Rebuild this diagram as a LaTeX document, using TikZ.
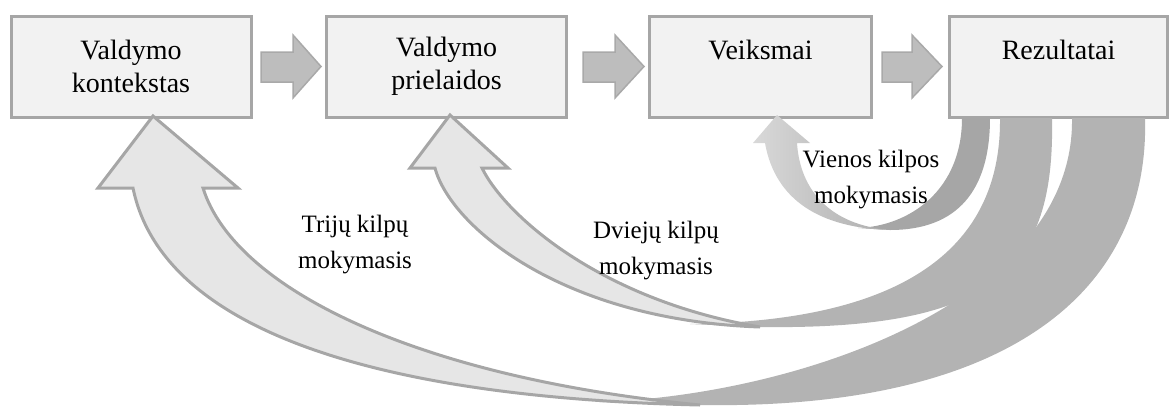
\documentclass[tikz,border=0pt]{standalone}
\usepackage{fontspec}
\setmainfont{Liberation Serif}
\definecolor{boxline}{HTML}{A6A6A6}
\definecolor{boxfill}{HTML}{F2F2F2}
\definecolor{blkfill}{HTML}{BDBDBD}
\definecolor{blkline}{HTML}{A9A9A9}
\definecolor{backfill}{HTML}{B3B3B3}
\definecolor{backfillA}{HTML}{A6A6A6}
\definecolor{frontfill}{HTML}{E6E6E6}
\definecolor{frontline}{HTML}{A6A6A6}
\tikzset{
  procbox/.style={draw=boxline, fill=boxfill, line width=3pt, inner sep=0pt},
  boxtext/.style={font=\fontsize{28}{33}\selectfont, align=center, inner sep=0pt},
  looptext/.style={font=\fontsize{25}{36}\selectfont, align=center, inner sep=0pt},
  blockarrow/.style={fill=blkfill, draw=blkline, line width=1.5pt, line join=miter},
  backpart/.style={fill=backfill, draw=none},
  frontpart/.style={fill=frontfill, draw=frontline, line width=3pt, line join=miter},
}
\begin{document}
\begin{tikzpicture}[x=1pt,y=-1pt]
\useasboundingbox (0,0) rectangle (1171,408);
% boxes
\node[procbox, minimum width=240pt, minimum height=101pt] (b1) at (131,66.5) {};
\node[procbox, minimum width=240pt, minimum height=101pt] (b2) at (446.5,66.5) {};
\node[procbox, minimum width=222pt, minimum height=101pt] (b3) at (760.5,66.5) {};
\node[procbox, minimum width=218pt, minimum height=101pt] (b4) at (1058.5,66.5) {};
\node[boxtext] (t1) at (b1.center) {Valdymo\\kontekstas};
\node[boxtext] (t2) at (b2.center) {Valdymo\\prielaidos};
\node[boxtext] (t3) at (760.5,50) {Veiksmai};
\node[boxtext] (t4) at (1058.5,50) {Rezultatai};
% straight block arrows
\draw[blockarrow] (261,52) -- (293,52) -- (293,35) -- (321,66.5) -- (293,98) -- (293,82) -- (261,82) -- cycle;
\draw[blockarrow] (583,52) -- (615,52) -- (615,35) -- (644,66.5) -- (615,98) -- (615,82) -- (583,82) -- cycle;
\draw[blockarrow] (882,52) -- (912,52) -- (912,35) -- (942,66.5) -- (912,98) -- (912,82) -- (882,82) -- cycle;
% triple loop arrow (to b1)
\fill[backpart] (1072,118) -- (1145,118) .. controls (1150,290) and (1010,410) .. (700,405)
  -- (600,402) .. controls (800,395) and (1075,300) .. (1072,118) -- cycle;
\draw[frontpart] (700,405) .. controls (350,397) and (160,320) .. (133,188) -- (98,188) -- (153,116)
  -- (238,188) -- (203,188) .. controls (235,290) and (420,378) .. (700,405) -- cycle;
% double loop arrow (to b2)
\fill[backpart] (1000,118) -- (1052,118) .. controls (1055,270) and (995,330) .. (760,327)
  -- (690,324) .. controls (820,322) and (1002,295) .. (1000,118) -- cycle;
\draw[frontpart] (760,327) .. controls (560,320) and (450,225) .. (435,168) -- (410,168) -- (450,115)
  -- (508,168) -- (482,168) .. controls (505,215) and (600,300) .. (760,327) -- cycle;
% single loop arrow (to b3)
\fill[fill=backfillA] (962,118) -- (990,118) .. controls (990,190) and (958,230) .. (890,230)
  -- (858,228) .. controls (910,226) and (962,190) .. (962,118) -- cycle;
\shade[left color=black!15, right color=black!32] (890,230) .. controls (820,228) and (775,200) .. (765,143) -- (753,143) -- (777,115)
  -- (810,143) -- (797,143) .. controls (800,190) and (830,225) .. (890,230) -- cycle;
% labels
\node[looptext] (l3) at (355,245) {Trijų kilpų\\mokymasis};
\node[looptext] (l2) at (656,251) {Dviejų kilpų\\mokymasis};
\node[looptext] (l1) at (871,180) {Vienos kilpos\\mokymasis};
\end{tikzpicture}
\end{document}
